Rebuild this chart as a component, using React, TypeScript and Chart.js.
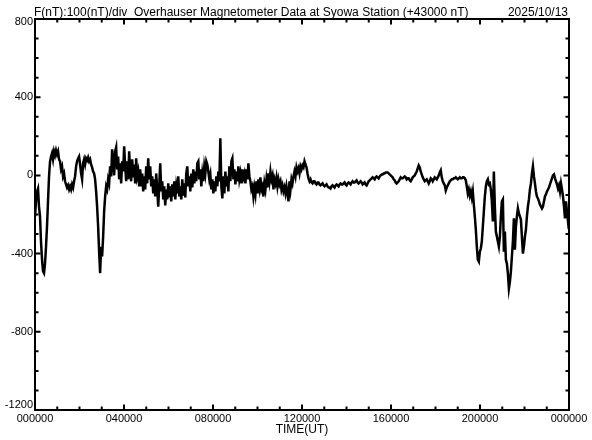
import React, { useEffect, useRef } from 'react';
import { Chart, registerables } from 'chart.js';

Chart.register(...registerables);

// F deviation (nT) from +43000 nT, uniformly sampled over the day (00:00 -> 24:00 UT)
const fValues: number[] = [
  -210,-133,-82,-67,-160,-210,-340,-430,-490,-500,-450,-365,-260,-133,-5,70,95,113,82,123,
  103,128,108,123,82,72,31,46,-5,10,-30,-46,-62,-51,-72,-56,-72,-46,-62,-30,
  -5,46,72,87,97,56,10,-20,62,82,56,87,77,92,72,82,56,41,20,10,
  -20,-82,-160,-260,-390,-500,-365,-415,-313,-185,-108,-56,-72,-20,-41,46,-5,133,72,0,
  123,144,31,97,-20,62,-41,72,20,149,46,-30,72,-20,123,20,-30,82,-10,56,
  -41,87,-5,20,-56,31,-56,10,-82,-5,-72,46,-41,87,-20,46,-56,-5,-92,-20,
  -108,10,-72,-160,-56,62,-82,-30,-123,-56,-154,-72,-123,-41,-113,-56,-133,-46,-108,-30,
  -123,-56,-92,-5,-108,-56,-123,-20,-103,-41,-113,10,46,-56,-5,-82,10,-62,31,-41,
  20,-30,62,72,-20,31,-56,10,-30,46,10,72,56,20,-20,5,-72,-20,-92,-30,
  -82,-5,-56,20,-30,190,-56,-118,-5,-92,20,-56,-5,-82,46,-30,72,87,-20,31,
  -46,20,-30,46,-20,10,-41,31,-10,10,-41,31,-20,62,-5,-30,-72,-56,-108,-62,
  -97,-30,-92,-20,-62,-10,-72,-56,-108,-41,-72,-20,-62,10,-30,20,-20,0,-72,-20,
  -41,-10,-56,-20,-46,-30,-72,-51,-82,-62,-92,-56,-92,-133,-30,-72,-20,-41,-5,20,
  -5,41,20,36,10,46,31,51,41,72,56,41,10,-15,-30,-20,-36,-41,-30,-30,
  -41,-46,-36,-36,-46,-51,-46,-41,-51,-56,-51,-46,-56,-62,-62,-67,-56,-51,-56,-62,
  -51,-46,-51,-56,-46,-41,-46,-46,-41,-36,-46,-51,-41,-36,-41,-46,-36,-30,-36,-36,
  -30,-25,-36,-41,-36,-30,-36,-46,-41,-36,-46,-51,-41,-30,-25,-20,-15,-10,-15,-20,
  -10,-5,-10,-15,-5,0,5,5,10,10,15,15,15,10,5,0,-5,-10,-20,-25,
  -36,-41,-36,-30,-20,-10,-15,-15,-10,-5,-10,-20,-15,-15,-25,-30,-20,-10,-5,0,
  10,20,36,51,41,20,5,-10,-20,-30,-25,-20,-30,-41,-30,-15,-20,-30,-20,-10,
  -15,-20,-10,0,15,26,-10,-30,-41,-51,-77,-62,-51,-41,-30,-25,-20,-20,-15,-15,
  -10,-15,-20,-15,-10,-15,-15,-10,-10,-15,-25,-56,-92,-72,-103,-82,-113,-82,-149,-210,
  -277,-364,-431,-441,-390,-374,-338,-262,-185,-108,-56,-30,-20,-46,-41,-72,-133,-236,20,-159,
  -287,-313,-338,-364,-313,-210,-133,-123,-390,-287,-431,-451,-502,-579,-544,-492,-415,-338,-220,-380,
  -262,-210,-169,-195,-210,-226,-313,-400,-364,-313,-277,-210,-159,-123,-72,-41,10,46,-5,-41,
  -82,-108,-118,-133,-149,-159,-169,-159,-133,-108,-97,-82,-72,-62,-46,-30,-15,0,5,-15,
  -30,-46,-67,-51,-82,-41,-72,-108,-159,-220,-133,-185,-236,-210,
];

const DAY_MINUTES = 1440;
const xTickLabels = ['000000', '040000', '080000', '120000', '160000', '200000', '000000'];
const yLabelValues = [800, 400, 0, -400, -800, -1200];
const titleText = 'F(nT):100(nT)/div  Overhauser Magnetometer Data at Syowa Station (+43000 nT)';
const dateText = '2025/10/13';
const xAxisTitle = 'TIME(UT)';

const FONT = "'Liberation Sans', Arial, sans-serif";

const framePlugin = {
  id: 'syowaFrame',
  afterDraw(chart: any) {
    const { ctx, chartArea: a } = chart;
    const xs = chart.scales.x;
    const ys = chart.scales.y;
    ctx.save();
    ctx.strokeStyle = '#000';
    ctx.lineWidth = 2;
    ctx.lineCap = 'butt';
    ctx.strokeRect(a.left, a.top, a.right - a.left, a.bottom - a.top);
    ctx.beginPath();
    for (const t of xs.ticks) {
      const p = xs.getPixelForValue(t.value);
      const len = t.value % 240 === 0 ? 5.5 : 3.5;
      ctx.moveTo(p, a.bottom);
      ctx.lineTo(p, a.bottom - len);
      ctx.moveTo(p, a.top);
      ctx.lineTo(p, a.top + len);
    }
    for (const t of ys.ticks) {
      const p = ys.getPixelForValue(t.value);
      const len = t.value % 400 === 0 ? 5.5 : 3.5;
      ctx.moveTo(a.left, p);
      ctx.lineTo(a.left + len, p);
      ctx.moveTo(a.right, p);
      ctx.lineTo(a.right - len, p);
    }
    ctx.stroke();

    ctx.fillStyle = '#000';
    ctx.font = `11px ${FONT}`;
    ctx.textAlign = 'right';
    ctx.textBaseline = 'middle';
    for (const v of yLabelValues) {
      const p = Math.min(Math.max(ys.getPixelForValue(v), a.top + 2.5), a.bottom - 5.5);
      ctx.fillText(String(v), a.left - 2, p);
    }

    ctx.font = `12px ${FONT}`;
    ctx.textBaseline = 'alphabetic';
    ctx.textAlign = 'left';
    ctx.fillText(titleText, a.left - 1, a.top - 3);
    ctx.textAlign = 'right';
    ctx.fillText(dateText, a.right - 1, a.top - 3);
    ctx.restore();
  },
};

export default function App() {
  const ref = useRef<HTMLCanvasElement>(null);
  useEffect(() => {
    const canvas = ref.current;
    if (!canvas) return;
    const times = fValues.map((_, i) => (i * DAY_MINUTES) / (fValues.length - 1));
    const chart = new Chart(canvas, {
      type: 'line',
      data: {
        datasets: [
          {
            data: times.map((t, i) => ({ x: t, y: fValues[i] })),
            borderColor: '#000',
            borderWidth: 2.5,
            pointRadius: 0,
            tension: 0,
            fill: false,
          },
        ],
      },
      options: {
        responsive: false,
        animation: false,
        devicePixelRatio: 1,
        layout: { padding: { top: 19, right: 23, left: 0, bottom: 0 } },
        plugins: {
          legend: { display: false },
          tooltip: { enabled: false },
          title: { display: false },
        },
        scales: {
          x: {
            type: 'linear',
            min: 0,
            max: DAY_MINUTES,
            afterFit: (s: any) => {
              s.height = 30;
            },
            grid: { display: false, drawTicks: false },
            border: { display: false },
            ticks: {
              stepSize: 60,
              autoSkip: false,
              maxRotation: 0,
              minRotation: 0,
              padding: 2,
              color: '#000',
              font: { size: 11, family: FONT },
              callback: (v: any) => (Number(v) % 240 === 0 ? xTickLabels[Number(v) / 240] : ''),
            },
            title: {
              display: true,
              text: xAxisTitle,
              color: '#000',
              font: { size: 12, family: FONT },
              padding: { top: 0, bottom: 3 },
            },
          },
          y: {
            type: 'linear',
            min: -1200,
            max: 800,
            afterFit: (s: any) => {
              s.width = 35;
            },
            grid: { display: false },
            border: { display: false },
            ticks: { stepSize: 100, display: false },
          },
        },
      },
      plugins: [framePlugin],
    });
    return () => chart.destroy();
  }, []);
  return (
    <div style={{ position: 'absolute', left: 0, top: 0, width: 592, height: 440, background: '#fff' }}>
      <canvas ref={ref} width={592} height={440} style={{ display: 'block' }} />
    </div>
  );
}
